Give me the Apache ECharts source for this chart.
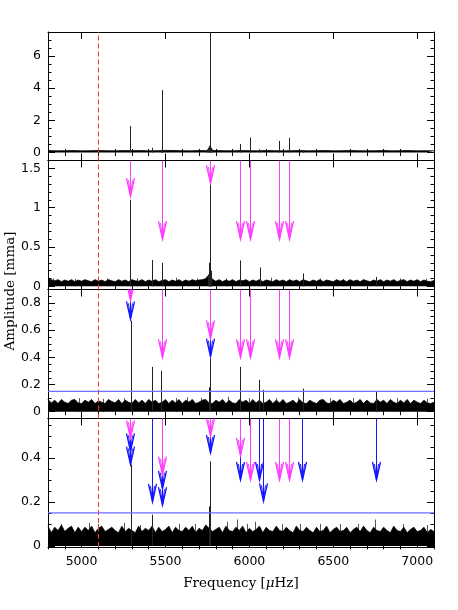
<!DOCTYPE html>
<html><head><meta charset="utf-8">
<script src="https://cdn.jsdelivr.net/npm/echarts@6/dist/echarts.min.js"></script>
<style>html,body{margin:0;padding:0;background:#fff}#c{width:458px;height:610px}</style>
</head><body><div id="c"></div>
<script>
// ---------- data ----------
const freqMin = 4800, freqMax = 7100;
const xMajorTicks = [5000, 5500, 6000, 6500, 7000];
const xMinorTicks = [4800, 4900, 5100, 5200, 5300, 5400, 5600, 5700, 5800, 5900, 6100, 6200, 6300, 6400, 6600, 6700, 6800, 6900, 7100];
const xLabels = [5000, 5500, 6000, 6500, 7000];

const yRange1 = [-0.5, 7.5], yMajor1 = [0, 2, 4, 6], yMinor1 = [-0.5, 0.5, 1, 1.5, 2.5, 3, 3.5, 4.5, 5, 5.5, 6.5, 7, 7.5], yLabels1 = [0, 2, 4, 6];
const yRange2 = [-0.04, 1.6], yMajor2 = [0, 0.5, 1, 1.5], yMinor2 = [0.1, 0.2, 0.3, 0.4, 0.6, 0.7, 0.8, 0.9, 1.1, 1.2, 1.3, 1.4], yLabels2 = [0, 0.5, 1, 1.5];
const yRange3 = [-0.05, 0.9], yMajor3 = [0, 0.2, 0.4, 0.6, 0.8], yMinor3 = [0.05, 0.1, 0.15, 0.25, 0.3, 0.35, 0.45, 0.5, 0.55, 0.65, 0.7, 0.75, 0.85], yLabels3 = [0, 0.2, 0.4, 0.6, 0.8];
const yRange4 = [-0.005, 0.58], yMajor4 = [0, 0.2, 0.4], yMinor4 = [0.05, 0.1, 0.15, 0.25, 0.3, 0.35, 0.45, 0.5, 0.55], yLabels4 = [0, 0.2, 0.4];

// noise floor (upper edge of the dense band), sampled from 4800 uHz
const noiseStep1 = 50;
const noise1 = [0.12,0.1,0.11,0.12,0.1,0.11,0.12,0.11,0.1,0.12,
  0.11,0.12,0.1,0.11,0.13,0.12,0.11,0.1,0.12,0.11,
  0.12,0.11,0.1,0.12,0.11,0.1,0.12,0.11,0.1,0.11,
  0.12,0.1,0.11,0.12,0.1,0.11,0.12,0.11,0.1,0.11,
  0.12,0.1,0.11,0.12,0.1,0.11,0.1];
const noiseStep = 20;
const noise2 = [0.1,0.085,0.07,0.085,0.06,0.08,0.065,0.085,0.06,0.08,
  0.065,0.085,0.07,0.06,0.085,0.065,0.08,0.06,0.085,0.07,
  0.06,0.085,0.065,0.08,0.06,0.085,0.07,0.065,0.085,0.06,
  0.08,0.065,0.085,0.06,0.075,0.085,0.06,0.08,0.065,0.085,
  0.06,0.08,0.065,0.085,0.07,0.08,0.085,0.1,0.15,0.09,
  0.065,0.085,0.06,0.08,0.065,0.085,0.06,0.08,0.07,0.085,
  0.06,0.08,0.065,0.085,0.06,0.08,0.07,0.06,0.085,0.065,
  0.08,0.06,0.085,0.065,0.08,0.06,0.085,0.07,0.06,0.08,
  0.065,0.085,0.06,0.08,0.07,0.06,0.085,0.065,0.08,0.06,
  0.085,0.065,0.08,0.06,0.085,0.07,0.06,0.08,0.065,0.085,
  0.06,0.08,0.065,0.085,0.06,0.075,0.085,0.06,0.08,0.065,
  0.085,0.06,0.08,0.065,0.06,0.075];
const noise3 = [0.09,0.065,0.085,0.06,0.09,0.07,0.06,0.085,0.09,0.065,
  0.06,0.085,0.07,0.09,0.06,0.08,0.07,0.06,0.09,0.075,
  0.065,0.09,0.06,0.085,0.07,0.06,0.09,0.065,0.085,0.06,
  0.09,0.07,0.085,0.06,0.07,0.09,0.06,0.085,0.065,0.09,
  0.06,0.085,0.07,0.09,0.06,0.07,0.085,0.09,0.065,0.06,
  0.085,0.07,0.09,0.06,0.085,0.065,0.06,0.09,0.07,0.085,
  0.06,0.09,0.065,0.085,0.06,0.07,0.09,0.06,0.085,0.065,
  0.09,0.06,0.07,0.085,0.06,0.09,0.065,0.06,0.085,0.07,
  0.06,0.085,0.09,0.065,0.06,0.085,0.07,0.09,0.06,0.07,
  0.085,0.06,0.07,0.09,0.06,0.085,0.065,0.06,0.09,0.07,
  0.085,0.06,0.09,0.07,0.06,0.085,0.065,0.09,0.06,0.085,
  0.07,0.06,0.085,0.065,0.06,0.07];
const noise4 = [0.09,0.06,0.085,0.07,0.095,0.065,0.08,0.09,0.06,0.085,
  0.065,0.085,0.07,0.09,0.06,0.08,0.09,0.065,0.075,0.085,
  0.07,0.06,0.09,0.065,0.08,0.07,0.06,0.09,0.065,0.08,
  0.07,0.09,0.06,0.085,0.065,0.075,0.09,0.06,0.085,0.07,
  0.065,0.085,0.07,0.09,0.06,0.08,0.07,0.095,0.08,0.065,
  0.075,0.085,0.06,0.09,0.07,0.065,0.085,0.07,0.09,0.06,
  0.08,0.065,0.075,0.09,0.06,0.085,0.07,0.065,0.09,0.07,
  0.065,0.085,0.07,0.06,0.09,0.07,0.065,0.085,0.07,0.06,
  0.085,0.065,0.07,0.09,0.06,0.075,0.085,0.065,0.07,0.085,
  0.06,0.075,0.085,0.065,0.09,0.07,0.06,0.085,0.07,0.065,
  0.085,0.07,0.06,0.09,0.07,0.065,0.085,0.06,0.075,0.085,
  0.065,0.07,0.085,0.06,0.075,0.065];

// individual peaks [frequency uHz, amplitude mma]
const peaks1 = [[5290,1.64],[5421,0.29],[5478,3.88],[5764,7.5],[5946,0.52],[6004,0.93],[6060,0.2],[6175,0.72],[6237,0.91],[6317,0.1],
  [5750,0.2],[5755,0.3],[5760,0.42],[5768,0.4],[5773,0.3],[5778,0.2],[5474,0.15],[5482,0.15]];
const peaks2 = [[5290,1.10],[5421,0.335],[5478,0.30],[5764,1.32],[5946,0.33],[6061,0.24],[6317,0.165],[6756,0.12],
  [5755,0.15],[5758,0.2],[5761,0.3],[5767,0.3],[5770,0.2],[5773,0.14]];
const hair2 = [[4830,0.1],[4960,0.095],[5150,0.1],[5330,0.1],[5560,0.11],[5690,0.1],[5860,0.1],[6130,0.11],[6420,0.1],[6560,0.095],[6900,0.1],[7050,0.095]];
const peaks3 = [[5292,0.67],[5421,0.33],[5476,0.30],[5758,0.18],[5764,0.39],[5946,0.33],[6057,0.235],[6081,0.16],[6317,0.17],[6756,0.15]];
const hair3 = [[4982,0.1],[5130,0.095],[5250,0.1],[5560,0.1],[5630,0.105],[5710,0.1],[5870,0.11],[6000,0.1],[6160,0.1],[6290,0.105],[6480,0.1],[6620,0.1],[6880,0.1],[7060,0.095]];
const peaks4 = [[5292,0.37],[5764,0.385],[5758,0.18],[5421,0.142]];
const hair4 = [[4880,0.1],[5042,0.105],[5100,0.1],[5252,0.105],[5350,0.095],[5579,0.1],[5678,0.1],[5867,0.11],[5927,0.12],[5986,0.1],[6036,0.11],[6195,0.1],[6300,0.1],[6423,0.1],[6542,0.1],[6650,0.1],[6750,0.12],[6918,0.1],[7058,0.095]];

// arrows [frequency, tip amplitude]
const arrowsMagenta2 = [[5290,1.146],[5478,0.60],[5764,1.31],[5946,0.60],[6004,0.60],[6175,0.60],[6237,0.60]];
const arrowsMagenta3 = [[5290,0.82],[5478,0.40],[5764,0.54],[5946,0.40],[6004,0.40],[6175,0.40],[6237,0.40]];
const arrowsBlue3 = [[5290,0.68],[5764,0.405]];
const arrowsMagenta4 = [[5290,0.49],[5478,0.324],[5764,0.50],[5946,0.41],[6004,0.30],[6175,0.30],[6237,0.30]];
const arrowsBlue4 = [[5290,0.43],[5290,0.37],[5417,0.20],[5478,0.26],[5478,0.185],[5764,0.423],[5946,0.30],[6060,0.30],[6079,0.203],[6315,0.30],[6756,0.30]];

const markerFreq = 5100;      // red dashed line
const thresholdAmp = 0.15;    // blue detection threshold (panels 3,4)

// ---------- chart ----------
const gridBoxes = [
  {top: 32, height: 128.5},
  {top: 160.5, height: 129},
  {top: 289.5, height: 129},
  {top: 418.5, height: 128.5}
];
const yRanges = [yRange1, yRange2, yRange3, yRange4];
const yMajors = [yMajor1, yMajor2, yMajor3, yMajor4];
const yMinors = [yMinor1, yMinor2, yMinor3, yMinor4];
const yLabs = [yLabels1, yLabels2, yLabels3, yLabels4];

const FONT_T = 'DejaVu Sans';
const FONT_N = 'DejaVu Serif';
const MAGENTA = '#ff3cff', BLUE = '#1414ff';
const plain = v => String(v);

const grids = gridBoxes.map(g => ({left: 48, width: 386, top: g.top, height: g.height, outerBoundsMode: 'none', show: false}));

const xAxes = [], yAxes = [];
for (let i = 0; i < 4; i++) {
  const base = {gridIndex: i, type: 'value', min: freqMin, max: freqMax, splitLine: {show: false}};
  xAxes.push(Object.assign({}, base, {
    position: 'bottom',
    axisLine: {show: true, onZero: false, lineStyle: {color: '#000', width: 1}},
    axisTick: {show: true, inside: true, length: 7, customValues: xMajorTicks, lineStyle: {color: '#000', width: 1}},
    axisLabel: {show: i === 3, customValues: xLabels, formatter: plain, color: '#000', fontFamily: FONT_T, fontSize: 12.5, margin: 8},
    name: i === 3 ? 'Frequency [{mu|μ}Hz]' : '',
    nameLocation: 'middle', nameGap: 29,
    nameTextStyle: {color: '#000', fontFamily: FONT_N, fontSize: 13.5,
      rich: {mu: {fontStyle: 'italic', fontFamily: FONT_N, fontSize: 13.5, color: '#000'}}}
  }));
  xAxes.push(Object.assign({}, base, {
    position: 'bottom', axisLine: {show: false},
    axisTick: {show: true, inside: true, length: 3.5, customValues: xMinorTicks, lineStyle: {color: '#000', width: 1}},
    axisLabel: {show: false}
  }));
  xAxes.push(Object.assign({}, base, {
    position: 'top',
    axisLine: {show: true, onZero: false, lineStyle: {color: '#000', width: 1}},
    axisTick: {show: true, inside: true, length: 7, customValues: xMajorTicks, lineStyle: {color: '#000', width: 1}},
    axisLabel: {show: false}
  }));
  xAxes.push(Object.assign({}, base, {
    position: 'top', axisLine: {show: false},
    axisTick: {show: true, inside: true, length: 3.5, customValues: xMinorTicks, lineStyle: {color: '#000', width: 1}},
    axisLabel: {show: false}
  }));

  const ybase = {gridIndex: i, type: 'value', min: yRanges[i][0], max: yRanges[i][1], splitLine: {show: false}};
  yAxes.push(Object.assign({}, ybase, {
    position: 'left',
    axisLine: {show: true, onZero: false, lineStyle: {color: '#000', width: 1}},
    axisTick: {show: true, inside: true, length: 7, customValues: yMajors[i], lineStyle: {color: '#000', width: 1}},
    axisLabel: {show: true, customValues: yLabs[i], formatter: plain, color: '#000', fontFamily: FONT_T, fontSize: 12.5, margin: 7}
  }));
  yAxes.push(Object.assign({}, ybase, {
    position: 'left', axisLine: {show: false},
    axisTick: {show: true, inside: true, length: 3.5, customValues: yMinors[i], lineStyle: {color: '#000', width: 1}},
    axisLabel: {show: false}
  }));
  yAxes.push(Object.assign({}, ybase, {
    position: 'right',
    axisLine: {show: true, onZero: false, lineStyle: {color: '#000', width: 1}},
    axisTick: {show: true, inside: true, length: 7, customValues: yMajors[i], lineStyle: {color: '#000', width: 1}},
    axisLabel: {show: false}
  }));
  yAxes.push(Object.assign({}, ybase, {
    position: 'right', axisLine: {show: false},
    axisTick: {show: true, inside: true, length: 3.5, customValues: yMinors[i], lineStyle: {color: '#000', width: 1}},
    axisLabel: {show: false}
  }));
}

function toPairs(values, step) {
  return values.map((v, k) => [freqMin + k * step, v]);
}

function spikeRender(color, width) {
  return function (params, api) {
    const p0 = api.coord([api.value(0), 0]);
    const p1 = api.coord([api.value(0), api.value(1)]);
    const x = Math.round(p0[0]) + 0.5;
    return {type: 'line', shape: {x1: x, y1: p0[1], x2: x, y2: p1[1]}, style: {stroke: color, lineWidth: width}};
  };
}

function arrowRender(color) {
  return function (params, api) {
    const p = api.coord([api.value(0), api.value(1)]);
    const top = params.coordSys.y;
    const x = Math.round(p[0]) + 0.5, y = p[1];
    const L = 18, W = 4;
    return {type: 'group', children: [
      {type: 'line', shape: {x1: x, y1: top, x2: x, y2: y}, style: {stroke: color, lineWidth: 1}},
      {type: 'polyline', shape: {points: [[x - W, y - L], [x, y], [x + W, y - L]]}, style: {stroke: color, fill: null, lineWidth: 1.3}},
      {type: 'polyline', shape: {points: [[x - W * 0.5, y - L + 2], [x, y], [x + W * 0.5, y - L + 2]]}, style: {stroke: color, fill: null, lineWidth: 1}}
    ]};
  };
}

const series = [];
const noiseSets = [toPairs(noise1, noiseStep1), toPairs(noise2, noiseStep), toPairs(noise3, noiseStep), toPairs(noise4, noiseStep)];
const peakSets = [peaks1, peaks2, peaks3, peaks4];
const hairSets = [[], hair2, hair3, hair4];
const arrowSets = [[[], []], [arrowsMagenta2, []], [arrowsMagenta3, arrowsBlue3], [arrowsMagenta4, arrowsBlue4]];

for (let i = 0; i < 4; i++) {
  const xi = i * 4, yi = i * 4;
  series.push({
    type: 'custom', xAxisIndex: xi, yAxisIndex: yi, data: hairSets[i], z: 1, silent: true, clip: true,
    encode: {x: 0, y: 1}, renderItem: spikeRender('#555', 1)
  });
  series.push({
    type: 'line', xAxisIndex: xi, yAxisIndex: yi, data: noiseSets[i],
    symbol: 'none', silent: true, z: 2,
    lineStyle: {color: '#000', width: 0.8},
    areaStyle: {color: '#000', opacity: 1, origin: 0},
    markLine: {silent: true, symbol: 'none', label: {show: false}, animation: false,
      lineStyle: {color: '#ff3030', type: [5, 3], width: 1},
      data: [{xAxis: markerFreq}]}
  });
  if (i >= 2) {
    series.push({
      type: 'line', xAxisIndex: xi, yAxisIndex: yi, symbol: 'none', silent: true, z: 5,
      data: [[freqMin, thresholdAmp], [freqMax, thresholdAmp]],
      lineStyle: {color: '#6e6eff', width: 1.2}
    });
  }
  series.push({
    type: 'custom', xAxisIndex: xi, yAxisIndex: yi, data: peakSets[i], z: 3, silent: true, clip: true,
    encode: {x: 0, y: 1}, renderItem: spikeRender('#222', 1)
  });
  series.push({
    type: 'custom', xAxisIndex: xi, yAxisIndex: yi, data: arrowSets[i][1], z: 6, silent: true, clip: true,
    encode: {x: 0, y: 1}, renderItem: arrowRender(BLUE)
  });
  series.push({
    type: 'custom', xAxisIndex: xi, yAxisIndex: yi, data: arrowSets[i][0], z: 7, silent: true, clip: true,
    encode: {x: 0, y: 1}, renderItem: arrowRender(MAGENTA)
  });
}

const chart = echarts.init(document.getElementById('c'), null, {renderer: 'canvas'});
chart.setOption({
  animation: false,
  backgroundColor: '#fff',
  grid: grids,
  xAxis: xAxes,
  yAxis: yAxes,
  series: series,
  graphic: [{
    type: 'text', x: 10, y: 291, rotation: Math.PI / 2,
    style: {text: 'Amplitude [mma]', fill: '#000', font: '13.5px "DejaVu Serif"', align: 'center', verticalAlign: 'middle'}
  }]
});
</script></body></html>
